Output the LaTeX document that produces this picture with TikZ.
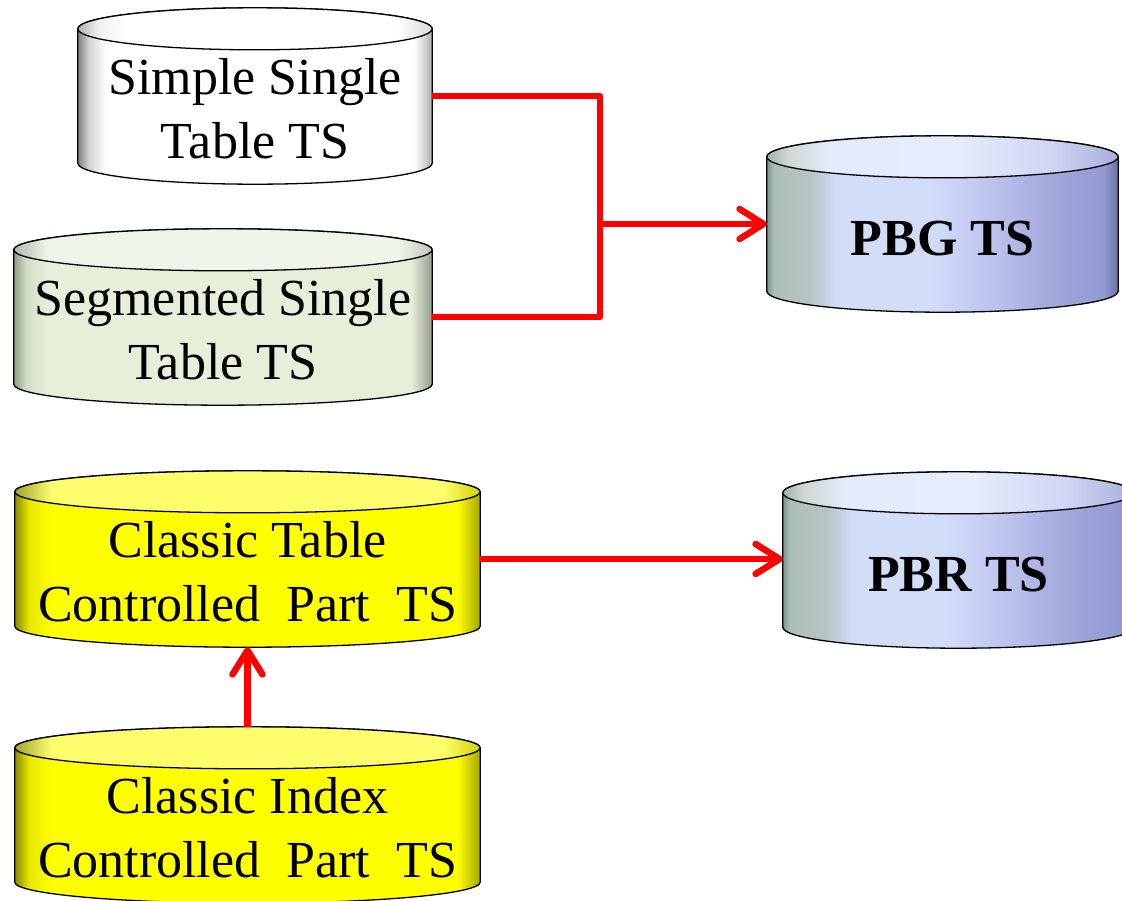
\documentclass[tikz,border=0pt]{standalone}
\usepackage{fontspec}
\setmainfont{Liberation Serif}
\usetikzlibrary{arrows.meta, calc, backgrounds}

\definecolor{linkRed}{HTML}{FF0000}
\definecolor{greenBody}{HTML}{E5EFDA}
\definecolor{greenLid}{HTML}{EFF5E9}
\definecolor{greenRim}{HTML}{8E9B86}
\definecolor{blueRim}{HTML}{7D9287}
\definecolor{blueGrey}{HTML}{ADBFB6}
\definecolor{blueLight}{HTML}{D2DDF8}
\definecolor{blueMid}{HTML}{BEC6EF}
\definecolor{blueDeep}{HTML}{9399D2}
\definecolor{blueEdge}{HTML}{6C70A6}
\definecolor{yellowRim}{HTML}{8A8A00}
\definecolor{yellowEdge}{HTML}{D0D000}
\definecolor{yellowLid}{HTML}{FFFF6E}

% side and lid shadings of the cylinders (visible part between 25bp and 75bp)
\pgfdeclarehorizontalshading{cylWhite}{100bp}{%
  color(0bp)=(white!50!black); color(25bp)=(white!50!black);
  color(26.5bp)=(white!82!black); color(29bp)=(white);
  color(72.5bp)=(white); color(75bp)=(white!68!black); color(100bp)=(white!68!black)}
\pgfdeclarehorizontalshading{cylWhiteTop}{100bp}{%
  color(0bp)=(white!70!black); color(25bp)=(white!70!black);
  color(28bp)=(white!95!black); color(32bp)=(white);
  color(70bp)=(white); color(75bp)=(white!85!black); color(100bp)=(white!85!black)}
\pgfdeclarehorizontalshading{cylGreen}{100bp}{%
  color(0bp)=(greenRim); color(25bp)=(greenRim);
  color(26.5bp)=(greenBody!80!greenRim); color(29bp)=(greenBody);
  color(72.5bp)=(greenBody); color(75bp)=(greenBody!65!black); color(100bp)=(greenBody!65!black)}
\pgfdeclarehorizontalshading{cylGreenTop}{100bp}{%
  color(0bp)=(greenRim!70!white); color(25bp)=(greenRim!70!white);
  color(29bp)=(greenLid); color(71bp)=(greenLid);
  color(75bp)=(greenLid!80!black); color(100bp)=(greenLid!80!black)}
\pgfdeclarehorizontalshading{cylBlue}{100bp}{%
  color(0bp)=(blueRim); color(25bp)=(blueRim);
  color(26bp)=(blueGrey); color(31bp)=(blueGrey!80!blueLight);
  color(35bp)=(blueLight); color(48bp)=(blueLight);
  color(56bp)=(blueMid); color(66bp)=(blueDeep!70!blueMid);
  color(73bp)=(blueDeep); color(75bp)=(blueEdge); color(100bp)=(blueEdge)}
\pgfdeclarehorizontalshading{cylBlueTop}{100bp}{%
  color(0bp)=(blueRim!70!white); color(25bp)=(blueRim!70!white);
  color(28bp)=(blueGrey!60!white); color(34bp)=(blueLight!60!white);
  color(52bp)=(blueLight!55!white); color(66bp)=(blueMid!75!white);
  color(75bp)=(blueDeep!80!white); color(100bp)=(blueDeep!80!white)}
\pgfdeclarehorizontalshading{cylYellow}{100bp}{%
  color(0bp)=(yellowRim); color(25bp)=(yellowRim);
  color(26.5bp)=(yellow!80!yellowRim); color(29bp)=(yellow);
  color(72.5bp)=(yellow); color(75bp)=(yellowEdge!80!black); color(100bp)=(yellowEdge!80!black)}
\pgfdeclarehorizontalshading{cylYellowTop}{100bp}{%
  color(0bp)=(yellowRim!80!white); color(25bp)=(yellowRim!80!white);
  color(29bp)=(yellowLid); color(71bp)=(yellowLid);
  color(75bp)=(yellowEdge); color(100bp)=(yellowEdge)}

\newcommand\cylfont{\fontsize{52pt}{64pt}\selectfont}
\newcommand\cylry{21pt}

% cylinder behind node #1: side shading #2, lid shading #2Top
\newcommand\drawcyl[2]{%
  \shadedraw[cylline, shading=#2]
    let \p1=(#1.north west), \p2=(#1.south east), \n1={(\x2-\x1)/2} in
    (\x1,\y1-\cylry) -- (\x1,\y2+\cylry)
    arc[start angle=180, end angle=360, x radius=\n1, y radius=\cylry]
    -- (\x2,\y1-\cylry)
    arc[start angle=0, end angle=180, x radius=\n1, y radius=\cylry] -- cycle;
  \shadedraw[cylline, shading=#2Top]
    let \p1=(#1.north west), \p2=(#1.south east), \n1={(\x2-\x1)/2} in
    (\x1+\n1,\y1-\cylry) ellipse[x radius=\n1, y radius=\cylry];
}

\tikzset{
  cylline/.style={draw=black, line width=1.3pt},
  % text sits a little below the middle, under the lid
  dbcyl/.style={rectangle, minimum width=#1, minimum height=176pt,
                inner sep=0pt, align=center, font=\cylfont, text height=64pt},
  twoline/.style={text height=126pt},
  bold/.style={font=\cylfont\bfseries},
  link/.style={draw=linkRed, line width=6.5pt, line join=round},
  tolink/.style={link, -{Straight Barb[length=24pt, width=30pt, round]}},
}

\begin{document}
\begin{tikzpicture}[x=1pt, y=-1pt]
  \useasboundingbox (0,0) rectangle (1122,900);

  % tablespaces
  \node[dbcyl=354pt, twoline] (simple) at (255,96) {Simple Single\\Table TS};
  \node[dbcyl=418pt, twoline] (segm) at (223,317) {Segmented Single\\Table TS};
  \node[dbcyl=351pt, bold] (pbg) at (942.5,224) {PBG TS};
  \node[dbcyl=465pt, twoline] (ctable) at (247.5,559) {Classic Table\\Controlled\ \ Part\ \ TS};
  \node[dbcyl=351pt, bold] (pbr) at (958.5,560) {PBR TS};
  \node[dbcyl=465pt, twoline] (cindex) at (247.5,815) {Classic Index\\Controlled\ \ Part\ \ TS};

  \begin{scope}[on background layer]
    \foreach \tsname/\tsshade in {simple/cylWhite, segm/cylGreen, pbg/cylBlue,
                                  ctable/cylYellow, pbr/cylBlue, cindex/cylYellow}
      {\drawcyl{\tsname}{\tsshade}}
  \end{scope}

  % conversions
  \draw[link] (simple.east) -- ++(168,0) coordinate (fork) |- (segm.east);
  \draw[tolink] (fork |- pbg.west) -- (pbg.west);
  \draw[tolink] (ctable.east) -- (ctable.east -| pbr.west);
  \draw[tolink] (cindex.north) -- (ctable.south);
\end{tikzpicture}
\end{document}
